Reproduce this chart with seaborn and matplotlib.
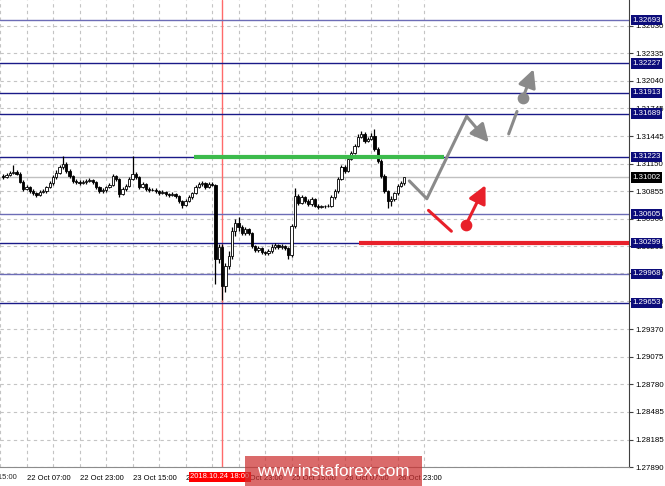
import matplotlib
matplotlib.use("Agg")
import matplotlib.pyplot as plt
from matplotlib.patches import Rectangle
import seaborn as sns

# hourly bars, index = hours since 22 Oct 00:00
bar_open = [
    1.31019, 1.31008, 1.31030, 1.31052, 1.31062, 1.31041, 1.30954, 1.30879, 1.30900, 1.30857,
    1.30835, 1.30814, 1.30846, 1.30857, 1.30900, 1.30943, 1.31008, 1.31052, 1.31116, 1.31149,
    1.31073, 1.31019, 1.30965, 1.30954, 1.30943, 1.30954, 1.30965, 1.30976, 1.30954, 1.30900,
    1.30857, 1.30868, 1.30900, 1.30922, 1.31019, 1.30987, 1.30825, 1.30879, 1.30911, 1.30987,
    1.31041, 1.31008, 1.30900, 1.30933, 1.30879, 1.30868, 1.30872, 1.30857, 1.30835, 1.30846,
    1.30825, 1.30814, 1.30825, 1.30803, 1.30749, 1.30705, 1.30749, 1.30792, 1.30835, 1.30900,
    1.30933, 1.30943, 1.30900, 1.30933, 1.30922, 1.30122, 1.30252, 1.29830, 1.30046, 1.30154,
    1.30425, 1.30511, 1.30468, 1.30403, 1.30446, 1.30403, 1.30262, 1.30219, 1.30241, 1.30197,
    1.30187, 1.30208, 1.30252, 1.30273, 1.30252, 1.30262, 1.30241, 1.30165, 1.30479, 1.30803,
    1.30727, 1.30792, 1.30749, 1.30716, 1.30770, 1.30695, 1.30684, 1.30690, 1.30695, 1.30700,
    1.30792, 1.30857, 1.30987, 1.31116, 1.31073, 1.31203, 1.31268, 1.31343, 1.31441, 1.31473,
    1.31397, 1.31419, 1.31452, 1.31311, 1.31181, 1.31019, 1.30857, 1.30749, 1.30770, 1.30835,
    1.30911, 1.30943,
]
bar_high = [
    1.31040, 1.31055, 1.31075, 1.31138, 1.31080, 1.31060, 1.30970, 1.30925, 1.30915, 1.30880,
    1.30850, 1.30870, 1.30880, 1.30915, 1.30960, 1.31030, 1.31080, 1.31140, 1.31235, 1.31165,
    1.31090, 1.31030, 1.30985, 1.30975, 1.30970, 1.30985, 1.30995, 1.30990, 1.30965, 1.30915,
    1.30890, 1.30915, 1.30940, 1.31040, 1.31030, 1.30995, 1.30900, 1.30930, 1.31005, 1.31235,
    1.31060, 1.31020, 1.30950, 1.30945, 1.30895, 1.30890, 1.30885, 1.30870, 1.30865, 1.30860,
    1.30840, 1.30845, 1.30840, 1.30815, 1.30760, 1.30770, 1.30810, 1.30850, 1.30920, 1.30955,
    1.30965, 1.30955, 1.30950, 1.30955, 1.30935, 1.30284, 1.30284, 1.30079, 1.30208, 1.30468,
    1.30554, 1.30576, 1.30490, 1.30470, 1.30460, 1.30420, 1.30280, 1.30265, 1.30255, 1.30215,
    1.30230, 1.30284, 1.30295, 1.30290, 1.30290, 1.30280, 1.30255, 1.30500, 1.30890, 1.30825,
    1.30810, 1.30805, 1.30770, 1.30790, 1.30785, 1.30715, 1.30705, 1.30710, 1.30715, 1.30810,
    1.30875, 1.31005, 1.31140, 1.31135, 1.31225, 1.31290, 1.31365, 1.31470, 1.31500, 1.31490,
    1.31440, 1.31475, 1.31527, 1.31330, 1.31200, 1.31035, 1.30870, 1.30800, 1.30850, 1.30930,
    1.30960, 1.30960,
]
bar_low = [
    1.30990, 1.30995, 1.31015, 1.31035, 1.31025, 1.30940, 1.30860, 1.30865, 1.30840, 1.30815,
    1.30790, 1.30800, 1.30830, 1.30840, 1.30885, 1.30925, 1.30990, 1.31035, 1.31095, 1.31050,
    1.31000, 1.30945, 1.30930, 1.30925, 1.30930, 1.30935, 1.30950, 1.30935, 1.30880, 1.30835,
    1.30840, 1.30850, 1.30885, 1.30905, 1.30965, 1.30795, 1.30810, 1.30860, 1.30895, 1.30970,
    1.30990, 1.30880, 1.30885, 1.30860, 1.30850, 1.30855, 1.30840, 1.30815, 1.30820, 1.30805,
    1.30795, 1.30800, 1.30785, 1.30730, 1.30673, 1.30690, 1.30735, 1.30775, 1.30820, 1.30885,
    1.30915, 1.30880, 1.30885, 1.30905, 1.29852, 1.30079, 1.29689, 1.29776, 1.30014, 1.30122,
    1.30370, 1.30425, 1.30380, 1.30385, 1.30380, 1.30240, 1.30200, 1.30205, 1.30175, 1.30165,
    1.30170, 1.30190, 1.30235, 1.30235, 1.30230, 1.30225, 1.30122, 1.30150, 1.30460, 1.30705,
    1.30715, 1.30730, 1.30700, 1.30700, 1.30680, 1.30665, 1.30670, 1.30675, 1.30680, 1.30685,
    1.30775, 1.30840, 1.30970, 1.31055, 1.31060, 1.31185, 1.31250, 1.31325, 1.31425, 1.31375,
    1.31380, 1.31400, 1.31290, 1.31160, 1.31000, 1.30840, 1.30673, 1.30700, 1.30750, 1.30815,
    1.30895, 1.30925,
]
bar_close = [
    1.31008, 1.31030, 1.31052, 1.31062, 1.31041, 1.30954, 1.30879, 1.30900, 1.30857, 1.30835,
    1.30814, 1.30846, 1.30857, 1.30900, 1.30943, 1.31008, 1.31052, 1.31116, 1.31149, 1.31073,
    1.31019, 1.30965, 1.30954, 1.30943, 1.30954, 1.30965, 1.30976, 1.30954, 1.30900, 1.30857,
    1.30868, 1.30900, 1.30922, 1.31019, 1.30987, 1.30825, 1.30879, 1.30911, 1.30987, 1.31041,
    1.31008, 1.30900, 1.30933, 1.30879, 1.30868, 1.30872, 1.30857, 1.30835, 1.30846, 1.30825,
    1.30814, 1.30825, 1.30803, 1.30749, 1.30705, 1.30749, 1.30792, 1.30835, 1.30900, 1.30933,
    1.30943, 1.30900, 1.30933, 1.30922, 1.30122, 1.30252, 1.29830, 1.30046, 1.30154, 1.30425,
    1.30511, 1.30468, 1.30403, 1.30446, 1.30403, 1.30262, 1.30219, 1.30241, 1.30197, 1.30187,
    1.30208, 1.30252, 1.30273, 1.30252, 1.30262, 1.30241, 1.30165, 1.30479, 1.30803, 1.30727,
    1.30792, 1.30749, 1.30716, 1.30770, 1.30695, 1.30684, 1.30690, 1.30695, 1.30700, 1.30792,
    1.30857, 1.30987, 1.31116, 1.31073, 1.31203, 1.31268, 1.31343, 1.31441, 1.31473, 1.31397,
    1.31419, 1.31452, 1.31311, 1.31181, 1.31019, 1.30857, 1.30749, 1.30770, 1.30835, 1.30911,
    1.30943, 1.31002,
]

levels_dark = [1.32227, 1.31913, 1.31689, 1.31223, 1.30299, 1.29653]
levels_light = [1.32693, 1.30605, 1.29968]
current_price = 1.31002
green_level = 1.31223
green_span = [57.6, 132.9]
red_level = 1.30299
red_span = [107.4, 188.8]
event_bar = 66
event_label = "2018.10.24 18:00"

ytick_values = [1.27890, 1.28185, 1.28485, 1.28780, 1.29075, 1.29370, 1.29670, 1.29970,
                1.30265, 1.30560, 1.30855, 1.31150, 1.31445, 1.31745, 1.32040, 1.32335, 1.32630]
xtick_bars = [7, 23, 39, 55, 71, 87, 103, 119]
xtick_labels = ["22 Oct 07:00", "22 Oct 23:00", "23 Oct 15:00", "24 Oct 07:00",
                "24 Oct 23:00", "25 Oct 15:00", "26 Oct 07:00", "26 Oct 23:00"]
first_label_bar = -9
first_label = "21 Oct 15:00"

# forecast sketch
gray_path_x = [122.5, 127.8, 139.8]
gray_path_y = [1.30965, 1.30773, 1.31657]
gray_arrow_tip = [146.5, 1.31379]
gray_dash_x = [152.5, 155.0]
gray_dash_y = [1.31470, 1.31711]
gray_dot = [156.8, 1.31859]
gray_dot_tip = [160.0, 1.32165]
red_seg_x = [128.3, 135.2]
red_seg_y = [1.30648, 1.30424]
red_dot = [139.5, 1.30486]
red_dot_tip = [145.5, 1.30919]

sns.set_style("white")
plt.rcParams['font.family'] = ['Liberation Sans', 'DejaVu Sans']

NAVY = '#1a1a88'
NAVY_L = '#6c6cb6'
GRAY = '#8a8a8a'
RED = '#e8202a'
FS_Y = 5.7
FS_X = 5.5

fig = plt.figure(figsize=(6.65, 4.86), dpi=100)
ax = fig.add_axes([0, 19 / 486, 629 / 665, 467 / 486])
ax.set_xlim(0.1, 188.8)
ax.set_ylim(1.27890, 1.32909)

# grid
ax.set_yticks(ytick_values)
ax.set_yticklabels(["%.5f" % v for v in ytick_values])
ax.set_xticks(xtick_bars)
ax.set_xticks([b + 8 for b in xtick_bars] + [-1], minor=True)
ax.set_xticklabels(xtick_labels)
for lab in ax.get_xticklabels():
    lab.set_horizontalalignment('left')
ax.grid(True, which='both', color='#c4c4c4', lw=0.8, ls=(0, (3, 3)))
ax.yaxis.tick_right()
ax.tick_params(axis='y', which='major', direction='out', length=3, width=0.8, color='#404040',
               labelsize=FS_Y, pad=1.5, labelcolor='black')
ax.tick_params(axis='x', which='major', direction='out', length=3, width=0.8, color='#404040',
               labelsize=FS_X, pad=2.5, labelcolor='black')
ax.tick_params(axis='x', which='minor', length=0)
for s in ['left', 'top']:
    ax.spines[s].set_visible(False)
ax.spines['right'].set_color('#404040')
ax.spines['bottom'].set_color('#8c8c8c')
ax.text(first_label_bar, -0.014, first_label, transform=ax.get_xaxis_transform(), ha='left',
        va='top', fontsize=FS_X, clip_on=False)

# horizontal levels
for lv in levels_dark:
    ax.axhline(lv, color=NAVY, lw=1.0, zorder=2)
for lv in levels_light:
    ax.axhline(lv, color=NAVY_L, lw=1.0, zorder=2)
ax.axhline(current_price, color='#c0c0c0', lw=1.0, zorder=1.5)
ax.axvline(event_bar, color='#ff6a6a', lw=1.0, zorder=1.6)

# candles
idx = list(range(len(bar_close)))
ax.vlines(idx, bar_low, bar_high, color='black', lw=0.9, zorder=3)
bodies = [c - o if abs(c - o) > 0.00003 else 0.00003 for o, c in zip(bar_open, bar_close)]
face = ['white' if c > o else 'black' for o, c in zip(bar_open, bar_close)]
ax.bar(idx, bodies, bottom=bar_open, width=0.7, color=face, edgecolor='black', linewidth=0.6,
       zorder=4)

# support / resistance marks
ax.plot(green_span, [green_level, green_level], color='#3cbb4c', lw=3, zorder=5, solid_capstyle='butt')
ax.plot(red_span, [red_level, red_level], color=RED, lw=3, zorder=5, solid_capstyle='butt')

# forecast sketch
sns.lineplot(x=gray_path_x, y=gray_path_y, sort=False, color=GRAY, lw=2.2, ax=ax, zorder=6)
arrow_kw = dict(arrowstyle='-|>,head_length=0.9,head_width=0.45', lw=2.2, mutation_scale=12,
                shrinkA=0, shrinkB=0)
ax.annotate('', xy=gray_arrow_tip, xytext=(gray_path_x[-1], gray_path_y[-1]),
            arrowprops=dict(color=GRAY, **arrow_kw), zorder=6)
ax.plot(gray_dash_x, gray_dash_y, color=GRAY, lw=2.2, zorder=6)
ax.scatter([gray_dot[0]], [gray_dot[1]], s=55, color=GRAY, zorder=6)
ax.annotate('', xy=gray_dot_tip, xytext=gray_dot, arrowprops=dict(color=GRAY, **arrow_kw), zorder=6)
ax.plot(red_seg_x, red_seg_y, color=RED, lw=2.2, zorder=6)
ax.scatter([red_dot[0]], [red_dot[1]], s=55, color=RED, zorder=6)
ax.annotate('', xy=red_dot_tip, xytext=red_dot, arrowprops=dict(color=RED, **arrow_kw), zorder=6)

# price labels on the right scale
ytr = ax.get_yaxis_transform()
for lv in levels_dark + levels_light:
    ax.text(1.005, lv, "%.5f" % lv, transform=ytr, ha='left', va='center', fontsize=FS_Y,
            color='white', clip_on=False, zorder=10,
            bbox=dict(boxstyle='square,pad=0.2', fc='#0c0c7a', ec='none'))
ax.text(1.005, current_price, "%.5f" % current_price, transform=ytr, ha='left', va='center',
        fontsize=FS_Y, color='white', clip_on=False, zorder=10,
        bbox=dict(boxstyle='square,pad=0.2', fc='black', ec='none'))

# event time label on the time scale
ax.text(event_bar - 9.6, -0.013, event_label, transform=ax.get_xaxis_transform(), ha='left',
        va='top', fontsize=FS_X, color='white', clip_on=False, zorder=10,
        bbox=dict(boxstyle='square,pad=0.2', fc='#ff0000', ec='none'))

# watermark
fig.patches.append(Rectangle((245 / 665, 0), 177 / 665, 30 / 486, transform=fig.transFigure,
                             facecolor='#cc3030', alpha=0.72, edgecolor='none', zorder=20))
fig.text(333 / 665, 15 / 486, "www.instaforex.com", ha='center', va='center', color='white',
         fontsize=12.3, family=['Liberation Sans', 'DejaVu Sans'], zorder=21)

ax.set_xlabel('')
ax.set_ylabel('')
fig.savefig("out.png", dpi=100)
